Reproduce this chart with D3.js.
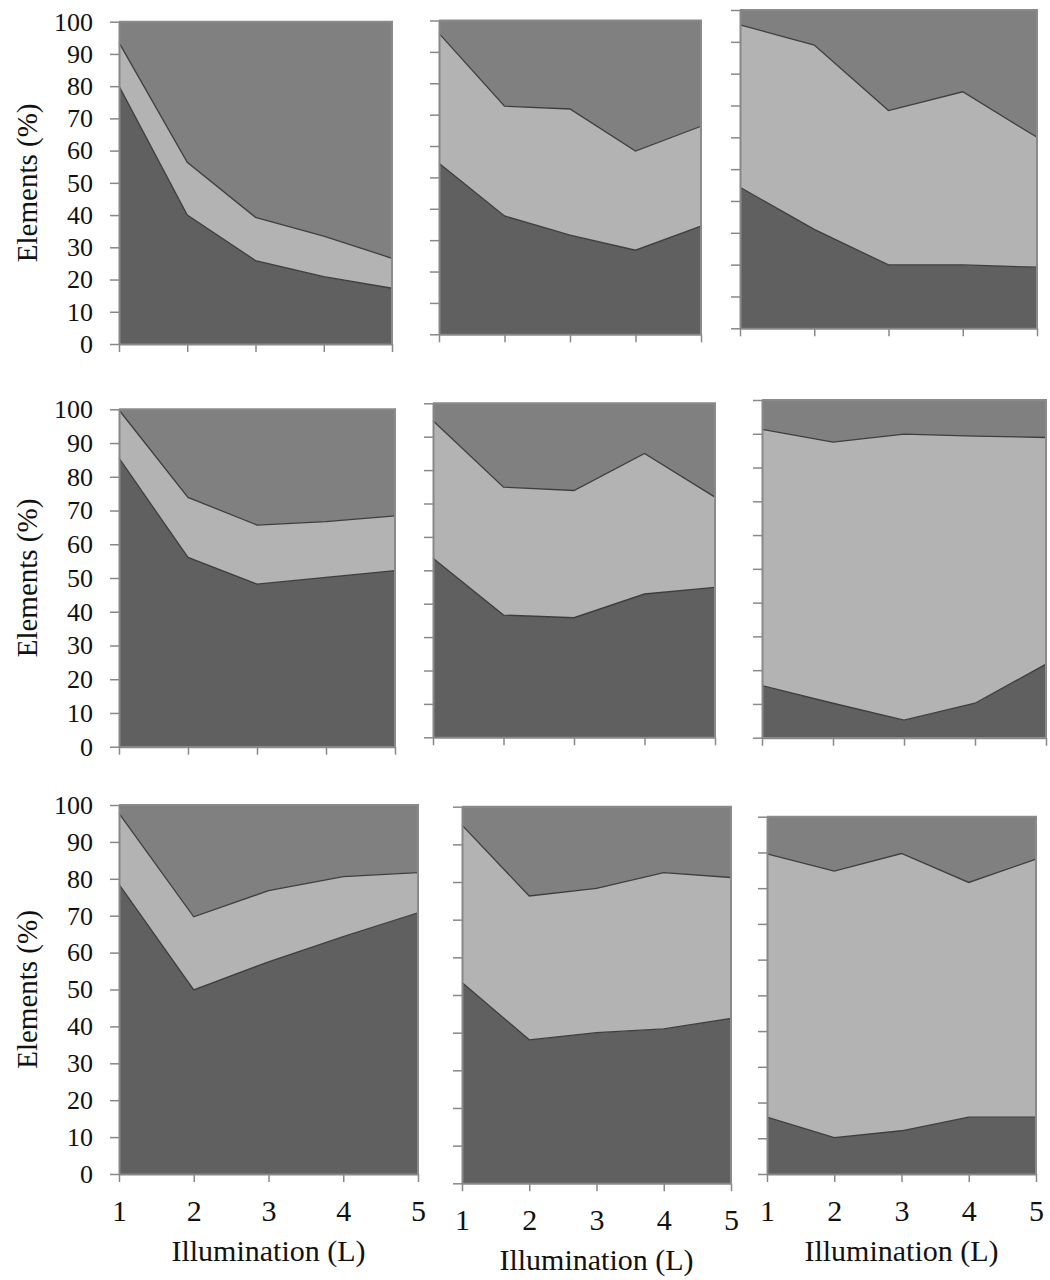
<!DOCTYPE html>
<html>
<head>
<meta charset="utf-8">
<script src="https://cdn.jsdelivr.net/npm/d3@7"></script>
<style>
  html, body { margin: 0; padding: 0; background: #ffffff; }
  svg { display: block; }
  text { font-family: "Liberation Serif", Tinos, "Times New Roman", Times, "DejaVu Serif", serif; fill: #111; }
</style>
</head>
<body>
<div id="chart"></div>
<script>
// ---- data ----
const illumination = [1, 2, 3, 4, 5];
const yTickValues = [0, 10, 20, 30, 40, 50, 60, 70, 80, 90, 100];
const yTitle = "Elements (%)";
const xTitle = "Illumination (L)";

// bottom (dark) layer, one row per panel (row-major, 3x3)
const darkLayer = [
  [80, 40, 25.9, 20.9, 17.3],
  [54.5, 37.7, 31.6, 26.8, 34.5],
  [44.3, 31.1, 19.9, 19.9, 19.2],
  [85.5, 56.1, 48.2, 50.2, 52.2],
  [53.6, 36.6, 35.8, 42.9, 44.9],
  [15.4, 10.2, 5.2, 10.2, 21.8],
  [78.5, 49.9, 57.5, 64.3, 70.8],
  [53.3, 38.1, 40, 41, 43.8],
  [15.9, 10.2, 12.1, 15.9, 15.9]
];
// middle (light) layer
const lightLayer = [
  [13.5, 16.4, 13.4, 12.6, 9.3],
  [41.4, 35, 40.2, 31.6, 31.8],
  [51, 57.9, 48.5, 54.4, 40.8],
  [14.3, 17.8, 17.5, 16.5, 16.2],
  [41.2, 38.3, 38.1, 42.1, 27],
  [75.9, 77.3, 84.7, 79.1, 67.1],
  [19.2, 19.8, 19.3, 16.3, 10.9],
  [41.8, 38.2, 38.3, 41.5, 37.4],
  [73.7, 74.6, 77.6, 65.7, 72.2]
];
// top (medium grey) layer
const greyLayer = [
  [6.5, 43.6, 60.7, 66.5, 73.4],
  [4.1, 27.3, 28.2, 41.6, 33.7],
  [4.7, 11, 31.6, 25.7, 40],
  [0.2, 26.1, 34.3, 33.3, 31.6],
  [5.2, 25.1, 26.1, 15, 28.1],
  [8.7, 12.5, 10.1, 10.7, 11.1],
  [2.3, 30.3, 23.2, 19.4, 18.3],
  [4.9, 23.7, 21.7, 17.5, 18.8],
  [10.4, 15.2, 10.3, 18.4, 11.9]
];

// ---- layout (plot rectangles: left, right, top, bottom) ----
const plotRects = [
  [119, 392, 21.7, 344],
  [439, 701, 20.5, 334.3],
  [740, 1037, 10, 328.3],
  [119, 395, 409.3, 746.7],
  [433, 715, 403.3, 737.3],
  [762, 1046, 400, 737.7],
  [119, 418, 805, 1174],
  [462, 731, 806.7, 1183.3],
  [767, 1036, 816.7, 1174]
];

const FONT = '"Liberation Serif", Tinos, "Times New Roman", Times, "DejaVu Serif", serif';
const colors = { dark: "#606060", light: "#b3b3b3", grey: "#808080" };
const keys = ["dark", "light", "grey"];

const svg = d3.select("#chart").append("svg")
  .attr("width", 1050).attr("height", 1280)
  .style("font-family", FONT);

plotRects.forEach((r, i) => {
  const [x0, x1, y0, y1] = r;
  const col = i % 3, row = Math.floor(i / 3);
  const x = d3.scaleLinear().domain([1, 5]).range([x0, x1]);
  const y = d3.scaleLinear().domain([0, 100]).range([y1, y0]);

  const rows = illumination.map((L, j) => ({
    L, dark: darkLayer[i][j], light: lightLayer[i][j], grey: greyLayer[i][j]
  }));
  const series = d3.stack().keys(keys)(rows);

  const g = svg.append("g");

  const area = d3.area()
    .x(d => x(d.data.L))
    .y0(d => y(d[0]))
    .y1(d => y(d[1]));

  g.selectAll("path.layer").data(series).join("path")
    .attr("class", "layer")
    .attr("d", area)
    .attr("fill", d => colors[d.key]);

  const line = d3.line().x(d => x(d.data.L)).y(d => y(d[1]));
  g.selectAll("path.edge").data(series.slice(0, 2)).join("path")
    .attr("class", "edge")
    .attr("d", line)
    .attr("fill", "none")
    .attr("stroke", "#3e3e3e")
    .attr("stroke-width", 1.3);

  g.append("path")
    .attr("d", `M${x0},${y0}H${x1}V${y1}`)
    .attr("fill", "none")
    .attr("stroke", "#8a8a8a")
    .attr("stroke-width", 2);

  const yAxis = d3.axisLeft(y).tickValues(yTickValues).tickSize(9).tickSizeOuter(0)
    .tickFormat(col === 0 ? d3.format("d") : () => "").tickPadding(17);
  const ya = g.append("g").attr("transform", `translate(${x0},0)`).call(yAxis)
    .attr("font-family", FONT).attr("font-size", 26);
  ya.select(".domain").attr("stroke", "#888").attr("stroke-width", 2);
  ya.selectAll(".tick line").attr("stroke", "#888").attr("stroke-width", 1.5);
  ya.selectAll(".tick text").attr("fill", "#111");

  const xAxis = d3.axisBottom(x).tickValues(illumination).tickSize(8).tickSizeOuter(0)
    .tickFormat(row === 2 ? d3.format("d") : () => "").tickPadding(17);
  const xa = g.append("g").attr("transform", `translate(0,${y1})`).call(xAxis)
    .attr("font-family", FONT).attr("font-size", 30);
  xa.select(".domain").attr("stroke", "#888").attr("stroke-width", 2);
  xa.selectAll(".tick line").attr("stroke", "#888").attr("stroke-width", 1.5);
  xa.selectAll(".tick text").attr("fill", "#111")
    .attr("dy", null).attr("y", 47);

  if (col === 0) {
    svg.append("text")
      .attr("transform", `translate(37,${(y0 + y1) / 2}) rotate(-90)`)
      .attr("text-anchor", "middle")
      .attr("font-family", FONT)
      .attr("font-size", 29)
      .text(yTitle);
  }
  if (row === 2) {
    svg.append("text")
      .attr("x", (x0 + x1) / 2)
      .attr("y", y1 + 87)
      .attr("text-anchor", "middle")
      .attr("font-family", FONT)
      .attr("font-size", 30)
      .text(xTitle);
  }
});
</script>
</body>
</html>
